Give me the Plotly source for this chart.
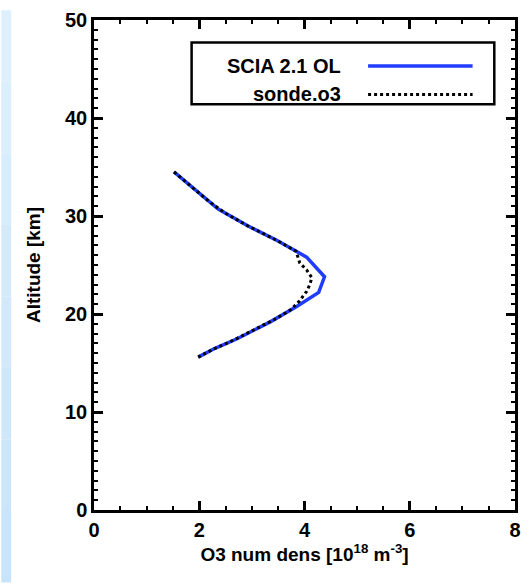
import plotly.graph_objects as go

# Data
scia_dens = [1.52, 2.36, 2.92, 3.48, 4.04, 4.38, 4.27, 3.86, 3.35, 2.73, 2.30, 1.98]
scia_alt = [34.5, 30.7, 29.0, 27.5, 25.8, 23.8, 22.2, 20.8, 19.2, 17.5, 16.5, 15.6]

sonde_dens = [1.52, 1.83, 2.16, 2.49, 2.72, 2.92, 3.22, 3.48, 3.84, 3.91, 4.04, 4.14, 4.10,
              4.04, 3.90, 3.73, 3.45, 3.13, 2.75, 2.52, 2.30, 2.12, 1.98]
sonde_alt = [34.5, 33.1, 31.6, 30.3, 29.6, 29.0, 28.2, 27.5, 26.4, 25.2, 24.5, 23.7, 23.0,
             22.3, 21.3, 20.4, 19.5, 18.6, 17.6, 17.0, 16.5, 16.0, 15.6]

series_names = ["SCIA 2.1 OL", "sonde.o3"]
x_ticks = [0, 2, 4, 6, 8]
y_ticks = [0, 10, 20, 30, 40, 50]

FONT = "Liberation Sans"
BLUE = "#1f3cff"

fig = go.Figure()
fig.add_trace(go.Scatter(x=scia_dens, y=scia_alt, mode="lines", name=series_names[0],
                         line=dict(color=BLUE, width=3.5), showlegend=False))
fig.add_trace(go.Scatter(x=sonde_dens, y=sonde_alt, mode="lines", name=series_names[1],
                         line=dict(color="black", width=3, dash="dot"), showlegend=False))

L, R, T, B = 94, 9, 10, 74
W, H = 530, 584
pw, ph = W - L - R, H - T - B

def px(x):
    return (x - L) / pw

def py(y):
    return 1 - (y - T) / ph

shapes = []
# light blue slide strip on the left (approximate gradient)
n = 8
for i in range(n):
    c0 = (222, 240, 253)
    c1 = (200, 228, 250)
    f = i / (n - 1)
    col = "rgb(%d,%d,%d)" % tuple(int(a + (b - a) * f) for a, b in zip(c0, c1))
    shapes.append(dict(type="rect", xref="paper", yref="paper",
                       x0=px(0), x1=px(10), y0=py(H * (i + 1) / n), y1=py(H * i / n),
                       fillcolor=col, line=dict(width=0), layer="below"))
# legend box
shapes.append(dict(type="rect", xref="paper", yref="paper",
                   x0=px(193), x1=px(500), y0=py(96), y1=py(33),
                   line=dict(color="black", width=2.5), fillcolor="white"))
shapes.append(dict(type="line", xref="paper", yref="paper",
                   x0=px(372), x1=px(478), y0=py(57), y1=py(57),
                   line=dict(color=BLUE, width=3.5)))
shapes.append(dict(type="line", xref="paper", yref="paper",
                   x0=px(372), x1=px(478), y0=py(86), y1=py(86),
                   line=dict(color="black", width=3, dash="dot")))

annotations = [
    dict(text=series_names[0], xref="paper", yref="paper", x=px(347), y=py(57),
         xanchor="right", yanchor="middle", showarrow=False,
         font=dict(family=FONT, size=20, color="black", weight="bold")),
    dict(text=series_names[1], xref="paper", yref="paper", x=px(347), y=py(86),
         xanchor="right", yanchor="middle", showarrow=False,
         font=dict(family=FONT, size=20, color="black", weight="bold")),
]

axis_common = dict(
    showgrid=False, zeroline=False, showline=True, linecolor="black", linewidth=2.5,
    mirror="allticks", ticks="inside", ticklen=9, tickwidth=2.5, tickcolor="black",
    tickfont=dict(family=FONT, size=20, color="black", weight="bold"),
)

fig.update_layout(
    width=W, height=H,
    margin=dict(l=L, r=R, t=T, b=B),
    paper_bgcolor="white", plot_bgcolor="white",
    shapes=shapes, annotations=annotations,
    xaxis=dict(range=[0, 8], tickvals=x_ticks, ticktext=[str(v) for v in x_ticks],
               minor=dict(dtick=0.5, ticks="inside", ticklen=4, tickwidth=2, tickcolor="black"),
               title=dict(text="O3 num dens [10<sup>18</sup> m<sup>-3</sup>]",
                          font=dict(family=FONT, size=19, color="black", weight="bold"),
                          standoff=8),
               **axis_common),
    yaxis=dict(range=[0, 50], tickvals=y_ticks, ticktext=[str(v) for v in y_ticks],
               minor=dict(dtick=1, ticks="inside", ticklen=4, tickwidth=2, tickcolor="black"),
               title=dict(text="Altitude [km]",
                          font=dict(family=FONT, size=19, color="black", weight="bold"),
                          standoff=20),
               **axis_common),
)

fig.write_html("out.html")
